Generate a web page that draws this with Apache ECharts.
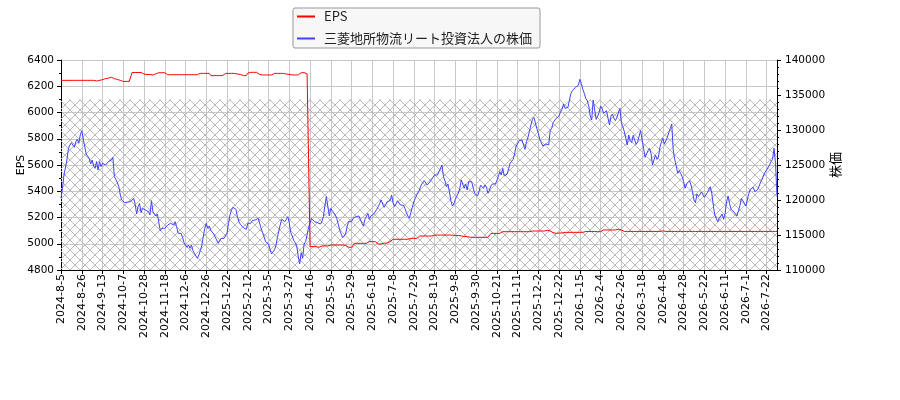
<!DOCTYPE html>
<html>
<head>
<meta charset="utf-8">
<script src="https://cdn.jsdelivr.net/npm/echarts@6/dist/echarts.min.js"></script>
<style>
  html, body { margin: 0; padding: 0; background: #fff; }
  #chart { width: 900px; height: 400px; }
</style>
</head>
<body>
<div id="chart"></div>
<script>
// market closed days (holidays) and one day missing in the source data
var closedDays = [
  '2024-8-12', '2024-9-16', '2024-9-23', '2024-10-14', '2024-11-4', '2024-12-31',
  '2025-1-1', '2025-1-2', '2025-1-3', '2025-1-13', '2025-2-11', '2025-2-24', '2025-3-12', '2025-3-20',
  '2025-4-29', '2025-5-5', '2025-5-6', '2025-7-21', '2025-8-11', '2025-9-15', '2025-9-23',
  '2025-10-13', '2025-11-3', '2025-11-24', '2025-12-31',
  '2026-1-1', '2026-1-2', '2026-1-12', '2026-2-11', '2026-2-23', '2026-3-20', '2026-4-29',
  '2026-5-4', '2026-5-5', '2026-5-6', '2026-7-20'
];
var firstDay = [2024, 8, 5];
var lastDay = [2026, 7, 31];

var seriesNames = ['EPS', '三菱地所物流リート投資法人の株価'];

// EPS (left axis)
var epsValues = [
  6245, 6245, 6245, 6245, 6245, 6245, 6245, 6245, 6245, 6245,
  6245, 6245, 6245, 6245, 6245, 6245, 6245, 6245, 6245, 6245,
  6245, 6245, 6245, 6245, 6240, 6235, 6245, 6248, 6250, 6255,
  6258, 6258, 6262, 6265, 6268, 6265, 6258, 6255, 6252, 6250,
  6245, 6240, 6237, 6237, 6237, 6237, 6237, 6237, 6305, 6305,
  6305, 6305, 6305, 6305, 6305, 6305, 6293, 6290, 6290, 6290,
  6290, 6290, 6285, 6282, 6295, 6305, 6303, 6303, 6303, 6303,
  6303, 6293, 6288, 6288, 6288, 6288, 6288, 6288, 6288, 6288,
  6288, 6288, 6288, 6288, 6288, 6288, 6288, 6288, 6288, 6298,
  6288, 6288, 6288, 6288, 6298, 6298, 6298, 6298, 6298, 6298,
  6298, 6281, 6281, 6281, 6281, 6281, 6281, 6281, 6281, 6281,
  6293, 6298, 6298, 6298, 6298, 6298, 6298, 6298, 6296, 6293,
  6293, 6290, 6281, 6281, 6281, 6281, 6300, 6306, 6306, 6306,
  6306, 6306, 6306, 6306, 6290, 6286, 6286, 6286, 6286, 6286,
  6286, 6286, 6286, 6298, 6298, 6298, 6298, 6298, 6298, 6298,
  6298, 6295, 6293, 6293, 6290, 6286, 6286, 6286, 6286, 6286,
  6286, 6292, 6303, 6303, 6303, 6303, 6295, 5650, 4978, 4978,
  4978, 4978, 4978, 4973, 4973, 4983, 4983, 4983, 4983, 4983,
  4983, 4983, 4990, 4990, 4990, 4990, 4990, 4990, 4990, 4990,
  4990, 4990, 4988, 4973, 4973, 4973, 4973, 4985, 5003, 5003,
  5003, 5003, 5003, 5003, 5003, 5003, 5003, 5003, 5016, 5016,
  5016, 5016, 5016, 5008, 4998, 4998, 4998, 4998, 5005, 5005,
  5005, 5016, 5016, 5028, 5034, 5034, 5034, 5034, 5034, 5034,
  5034, 5034, 5034, 5034, 5034, 5034, 5041, 5041, 5041, 5041,
  5041, 5041, 5059, 5059, 5059, 5059, 5059, 5059, 5059, 5059,
  5059, 5066, 5066, 5066, 5066, 5066, 5066, 5066, 5066, 5066,
  5066, 5066, 5066, 5063, 5066, 5066, 5063, 5063, 5063, 5060,
  5060, 5060, 5055, 5055, 5055, 5049, 5049, 5049, 5049, 5049,
  5049, 5049, 5049, 5049, 5049, 5049, 5049, 5049, 5049, 5059,
  5079, 5079, 5079, 5079, 5079, 5079, 5079, 5092, 5092, 5092,
  5092, 5092, 5092, 5092, 5092, 5092, 5092, 5092, 5092, 5092,
  5092, 5092, 5092, 5092, 5092, 5092, 5092, 5088, 5097, 5097,
  5097, 5097, 5097, 5097, 5097, 5097, 5097, 5097, 5103, 5103,
  5097, 5090, 5085, 5079, 5079, 5079, 5082, 5082, 5082, 5087,
  5087, 5087, 5087, 5087, 5087, 5087, 5087, 5087, 5087, 5087,
  5087, 5087, 5087, 5087, 5093, 5093, 5093, 5093, 5093, 5093,
  5093, 5093, 5092, 5092, 5092, 5092, 5105, 5105, 5105, 5105,
  5105, 5100, 5105, 5098, 5105, 5110, 5110, 5110, 5105, 5094,
  5094, 5094, 5094, 5094, 5094, 5094, 5094, 5094, 5094, 5094,
  5094, 5094, 5094, 5094, 5094, 5094, 5094, 5094, 5094, 5094,
  5094, 5094, 5094, 5094, 5094, 5094, 5098, 5094, 5094, 5094,
  5094, 5094, 5094, 5094, 5094, 5094, 5094, 5094, 5094, 5094,
  5094, 5094, 5094, 5094, 5094, 5094, 5094, 5094, 5094, 5094,
  5094, 5094, 5094, 5094, 5094, 5094, 5094, 5094, 5094, 5094,
  5094, 5094, 5094, 5094, 5094, 5094, 5094, 5094, 5094, 5094,
  5094, 5094, 5094, 5094, 5094, 5094, 5094, 5094, 5094, 5094,
  5094, 5094, 5094, 5094, 5094, 5094, 5094, 5094, 5094, 5094,
  5094, 5094, 5094, 5094, 5094, 5094, 5094, 5094, 5094, 5094,
  5094, 5094, 5094, 5094
];

// share price (right axis)
var stockValues = [
  120240, 121670, 123570, 123810, 125710, 127380, 127860, 128190, 128330, 127520,
  128330, 128670, 128100, 129290, 129900, 129760, 127620, 126570, 126760, 125950,
  125140, 125710, 124860, 124520, 125480, 124290, 125480, 124760, 125240, 125480,
  125000, 124760, 125480, 125240, 125710, 126090, 123330, 122950, 122480, 121900,
  120710, 120000, 119760, 119620, 119620, 119710, 119620, 119760, 120000, 120240,
  119430, 118000, 119050, 119520, 118190, 118810, 119050, 118570, 118810, 118330,
  117860, 119900, 118330, 118100, 117710, 118000, 116760, 115620, 115950, 116190,
  115950, 116190, 116430, 116190, 116670, 116900, 116430, 116900, 116190, 115240,
  115000, 115240, 114670, 113900, 113570, 113240, 113570, 113100, 113570, 112760,
  112380, 112000, 111670, 112140, 112760, 113570, 114760, 115950, 116670, 115950,
  116290, 115710, 115480, 115140, 114860, 114290, 113810, 114050, 114520, 114520,
  114520, 114520, 115240, 116670, 117860, 118570, 118950, 119050, 118670, 117620,
  116900, 116520, 116290, 116050, 115900, 115810, 116670, 116900, 116670, 117050,
  116900, 117140, 116900, 117380, 117520, 115950, 115330, 114760, 114050, 114000,
  113710, 112950, 112290, 112140, 112860, 113520, 114670, 115620, 116570, 117240,
  117140, 116900, 117240, 117620, 116760, 115330, 114860, 114190, 113900, 113430,
  112000, 110860, 112480, 111670, 113710, 114050, 115000, 116100, 116670, 117380,
  117620, 116900, 117140, 116760, 116900, 116570, 116900, 117620, 119140, 120480,
  120710, 117710, 118810, 118480, 118190, 117860, 117380, 116570, 115710, 115140,
  114620, 114670, 115140, 116190, 116900, 117140, 116900, 117380, 117140, 117620,
  117380, 117710, 117620, 116670, 116290, 117240, 117620, 118100, 117240, 117710,
  117710, 118000, 118190, 118670, 119050, 119520, 120000, 119430, 118950, 119290,
  119760, 120000, 119900, 120710, 119620, 119050, 119430, 119900, 119760, 119290,
  119050, 119240, 118810, 118190, 117710, 117380, 118190, 118950, 119760, 120240,
  120710, 121050, 121290, 122140, 122380, 122760, 122620, 122140, 122380, 122620,
  122950, 123240, 123570, 123810, 123570, 124050, 124290, 125000, 123330, 122760,
  121900, 122290, 121190, 119900, 119140, 119430, 120100, 120570, 120950, 121670,
  122860, 122620, 121670, 122290, 121430, 122620, 122380, 122620, 122760, 120950,
  121190, 120570, 121190, 122140, 121900, 121670, 122140, 121810, 120950, 121430,
  122000, 122290, 122380, 122290, 122760, 123330, 124050, 123570, 124520, 123430,
  123570, 123710, 124520, 125240, 125480, 125810, 126570, 127710, 128000, 128480,
  128290, 128570, 128670, 127240, 128330, 128950, 129810, 130710, 131520, 131810,
  131050, 130190, 129520, 128670, 128190, 127710, 127620, 128000, 128100, 127860,
  129900, 130240, 131050, 131330, 131670, 131520, 132000, 132620, 132950, 133710,
  133100, 132860, 133240, 134290, 135240, 135620, 135810, 136100, 135950, 136380,
  137240, 136670, 135810, 135240, 134520, 134190, 133430, 132000, 131430, 134290,
  132860, 131520, 131520, 132480, 133430, 133100, 132380, 132620, 132760, 131670,
  130710, 132000, 132290, 131670, 131330, 131810, 131900, 133100, 131050, 130480,
  129760, 128810, 127860, 129290, 128480, 128190, 129240, 128570, 127950, 128330,
  129140, 129900, 130100, 127380, 126100, 126190, 127050, 127380, 126670, 125000,
  124760, 126430, 125810, 126100, 127520, 128290, 128810, 128000, 128190, 128950,
  129620, 130190, 130860, 127140, 125810, 124860, 123810, 124190, 123810, 123330,
  122620, 121670, 122290, 122290, 122760, 122140, 121190, 120000, 119620, 120860,
  120480, 120710, 121140, 120860, 120380, 120570, 121050, 121520, 121900, 120950,
  119290, 117860, 117710, 116900, 117380, 117140, 118000, 117240, 118100, 119760,
  120570, 119520, 118670, 118480, 118290, 118000, 117710, 118480, 119240, 120240,
  120240, 119520, 119140, 119290, 120950, 121520, 121430, 121810, 121190, 121050,
  121520, 122000, 122620, 122950, 123570, 124000, 124290, 124480, 125000, 125480,
  125810, 127400, 125200, 120600
];

// one label every 14 trading days
var labelStep = 14;

function tradingDays(from, to) {
  var out = [];
  var d = new Date(Date.UTC(from[0], from[1] - 1, from[2]));
  var end = Date.UTC(to[0], to[1] - 1, to[2]);
  while (d.getTime() <= end) {
    var wd = d.getUTCDay();
    var s = d.getUTCFullYear() + '-' + (d.getUTCMonth() + 1) + '-' + d.getUTCDate();
    if (wd !== 0 && wd !== 6 && closedDays.indexOf(s) < 0) out.push(s);
    d.setUTCDate(d.getUTCDate() + 1);
  }
  return out;
}
var dates = tradingDays(firstDay, lastDay);

// cross hatch tile
function hatchTile() {
  var c = document.createElement('canvas');
  c.width = 10;
  c.height = 10;
  var ctx = c.getContext('2d');
  ctx.strokeStyle = '#bababa';
  ctx.lineWidth = 1;
  ctx.beginPath();
  ctx.moveTo(-1, -1); ctx.lineTo(11, 11);
  ctx.moveTo(11, -1); ctx.lineTo(-1, 11);
  ctx.stroke();
  return c;
}

var font = 'DejaVu Sans, Noto Sans CJK JP, sans-serif';
var gridColor = '#c8c8c8';
var plain = function (v) { return String(v); };

var myChart = echarts.init(document.getElementById('chart'));
myChart.setOption({
  animation: false,
  textStyle: { fontFamily: font },
  legend: {
    data: seriesNames,
    orient: 'vertical',
    left: 293,
    top: 8,
    icon: 'rect',
    itemWidth: 18,
    itemHeight: 2,
    itemGap: 7,
    padding: [1, 8, 2, 4],
    backgroundColor: '#f7f7f7',
    borderColor: '#999',
    borderWidth: 1,
    borderRadius: 2,
    textStyle: {
      fontFamily: 'Noto Sans CJK JP',
      fontSize: 13,
      lineHeight: 15,
      color: '#222',
      padding: [0, 0, 0, 4]
    }
  },
  grid: {
    left: 61,
    right: 123,
    top: 60,
    bottom: 130,
    containLabel: false,
    outerBoundsMode: 'none'
  },
  xAxis: {
    type: 'category',
    data: dates,
    boundaryGap: false,
    axisLine: { lineStyle: { color: '#000' } },
    axisTick: { interval: labelStep - 1, length: 4, lineStyle: { color: '#000' } },
    axisLabel: {
      interval: labelStep - 1,
      rotate: 90,
      margin: 4,
      fontSize: 11,
      color: '#000',
      fontFamily: font
    },
    splitLine: { show: true, interval: labelStep - 1, lineStyle: { color: gridColor, width: 1 } }
  },
  yAxis: [
    {
      type: 'value',
      min: 4800,
      max: 6400,
      interval: 200,
      name: 'EPS',
      nameLocation: 'middle',
      nameRotate: 90,
      nameGap: 34,
      nameMoveOverlap: false,
      nameTextStyle: { fontSize: 11, color: '#000' },
      axisLine: { show: true, lineStyle: { color: '#000' } },
      axisTick: { show: true, length: 4, lineStyle: { color: '#000' } },
      minorTick: { show: true, splitNumber: 2, length: 2, lineStyle: { color: '#000' } },
      axisLabel: { fontSize: 10.5, color: '#000', margin: 7, formatter: plain },
      splitLine: { show: true, lineStyle: { color: gridColor, width: 1 } }
    },
    {
      type: 'value',
      min: 110000,
      max: 140000,
      interval: 5000,
      name: '株価',
      nameLocation: 'middle',
      nameRotate: 90,
      nameGap: 52,
      nameMoveOverlap: false,
      nameTextStyle: { fontSize: 13, color: '#000', fontFamily: 'Noto Sans CJK JP' },
      axisLine: { show: true, lineStyle: { color: '#000' } },
      axisTick: { show: true, length: 4, lineStyle: { color: '#000' } },
      minorTick: { show: true, splitNumber: 5, length: 2, lineStyle: { color: '#000' } },
      axisLabel: { fontSize: 10.5, color: '#000', margin: 8, formatter: plain },
      splitLine: { show: false }
    }
  ],
  series: [
    {
      name: seriesNames[0],
      type: 'line',
      yAxisIndex: 0,
      data: epsValues,
      showSymbol: false,
      symbol: 'none',
      color: '#ff0000',
      lineStyle: { color: '#ff0000', width: 1 },
      z: 3,
      markArea: {
        silent: true,
        itemStyle: { color: { image: hatchTile(), repeat: 'repeat' } },
        data: [[{ yAxis: 4800 }, { yAxis: 6100 }]]
      }
    },
    {
      name: seriesNames[1],
      type: 'line',
      yAxisIndex: 1,
      data: stockValues,
      showSymbol: false,
      symbol: 'none',
      color: '#4040ff',
      lineStyle: { color: '#4040ff', width: 1 },
      z: 4
    }
  ]
});
</script>
</body>
</html>
